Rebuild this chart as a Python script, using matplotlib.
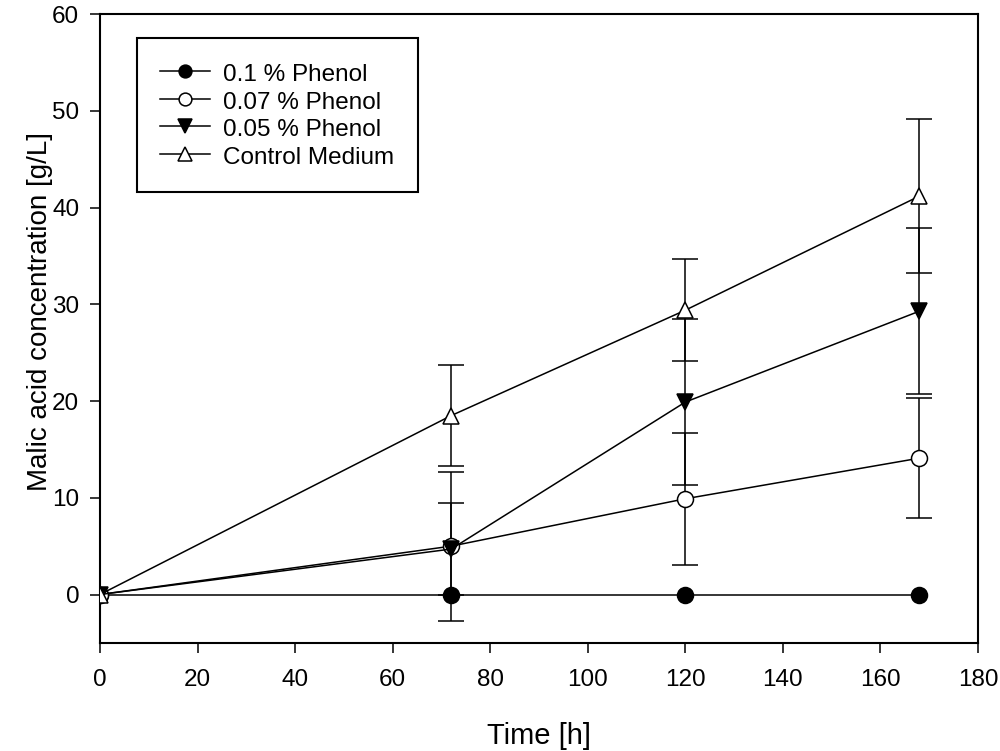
import numpy as np
import matplotlib.pyplot as plt

plt.rcParams['font.family'] = ['Liberation Sans', 'DejaVu Sans']

time = [0, 72, 120, 168]
labels = ['0.1 % Phenol', '0.07 % Phenol', '0.05 % Phenol', 'Control Medium']
phenol_01 = [0, 0, 0, 0]
phenol_01_err = [0, 0, 0, 0]
phenol_007 = [0, 5.0, 9.9, 14.1]
phenol_007_err = [0, 7.7, 6.8, 6.2]
phenol_005 = [0, 4.7, 19.9, 29.3]
phenol_005_err = [0, 4.8, 8.6, 8.6]
control = [0, 18.5, 29.4, 41.2]
control_err = [0, 5.2, 5.3, 8.0]

fig = plt.figure(figsize=(10, 7.51), dpi=100)
ax = fig.add_axes([0.1, 0.144, 0.878, 0.837])

series = [(phenol_01, phenol_01_err, 'o', 'black', 11.5),
          (phenol_007, phenol_007_err, 'o', 'white', 11.5),
          (phenol_005, phenol_005_err, 'v', 'black', 12),
          (control, control_err, '^', 'white', 12)]

# error bars first, markers drawn over them
for y, err, m, fc, ms in series:
    t = np.array(time)
    y = np.array(y)
    err = np.array(err)
    keep = err > 0
    if keep.any():
        ax.errorbar(t[keep], y[keep], yerr=err[keep], fmt='none', ecolor='black',
                    elinewidth=1.1, capsize=9.5, capthick=1.1, zorder=2)

handles = []
for (y, err, m, fc, ms), lab in zip(series, labels):
    h, = ax.plot(time, y, marker=m, markersize=ms, markerfacecolor=fc,
                 markeredgecolor='black', markeredgewidth=1.1, color='black',
                 linewidth=1.1, label=lab, zorder=3)
    handles.append(h)

ax.set_xlim(0, 180)
ax.set_ylim(-5, 60)
ax.set_xticks(np.arange(0, 181, 20))
ax.set_yticks(np.arange(0, 61, 10))
ax.tick_params(labelsize=17.5, length=7, width=1.1, direction='out', pad=8)
ax.tick_params(axis='x', pad=12)
for s in ax.spines.values():
    s.set_linewidth(1.5)
ax.set_xlabel('Time [h]', fontsize=21)
ax.set_ylabel('Malic acid concentration [g/L]', fontsize=20)
ax.xaxis.set_label_coords(0.5, -0.126)
ax.yaxis.set_label_coords(-0.0535, 0.527)

leg = ax.legend(handles=handles, loc='upper left', bbox_to_anchor=(0.042, 0.962),
                borderaxespad=0, fontsize=17.5, fancybox=False, edgecolor='black',
                framealpha=1, handlelength=2.06, handleheight=1.07,
                handletextpad=0.55, borderpad=0.95, labelspacing=0.12,
                markerscale=0.8)
leg.get_frame().set_linewidth(1.5)

plt.savefig('out.png', dpi=100)
